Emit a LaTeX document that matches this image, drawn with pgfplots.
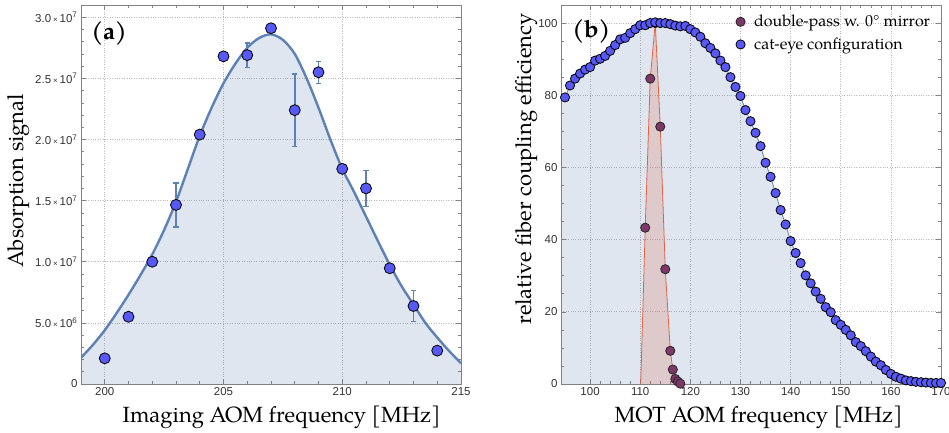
\documentclass[border=0pt]{standalone}
\usepackage{fontspec}
\setmainfont{TeX Gyre Pagella}
\setsansfont{Liberation Sans}
\usepackage{pgfplots}
\usepackage{pgfplotstable}
\pgfplotsset{compat=1.18}

\definecolor{curveblue}{RGB}{94,129,181}
\definecolor{markblue}{RGB}{88,88,245}
\definecolor{markred}{RGB}{125,55,105}
\definecolor{linered}{RGB}{222,100,70}
\definecolor{framegray}{RGB}{130,130,130}

% panel (a): measured points with error bars
\pgfplotstableread{
x y e
200 2.1e6 0
201 5.5e6 0
202 1.0e7 0
203 1.465e7 1.8e6
204 2.04e7 0
205 2.68e7 0
206 2.69e7 1.0e6
207 2.91e7 0
208 2.24e7 2.95e6
209 2.55e7 0.9e6
210 1.76e7 0
211 1.60e7 1.47e6
212 0.947e7 0
213 0.638e7 1.28e6
214 0.273e7 0
}\absdata

% panel (a): fitted curve
\pgfplotstableread{
x y
199 0.215e7
199.5 0.32e7
200 0.44e7
200.5 0.58e7
201 0.73e7
201.5 0.89e7
202 1.06e7
202.5 1.26e7
203 1.49e7
203.5 1.76e7
204 2.03e7
204.5 2.26e7
205 2.46e7
205.5 2.62e7
206 2.75e7
206.5 2.83e7
207 2.86e7
207.5 2.815e7
208 2.70e7
208.5 2.50e7
209 2.26e7
209.5 2.00e7
210 1.76e7
210.5 1.57e7
211 1.37e7
211.5 1.17e7
212 0.975e7
212.5 0.80e7
213 0.65e7
213.5 0.50e7
214 0.38e7
214.5 0.27e7
215 0.17e7
}\absfit

% panel (b): double-pass with 0 deg mirror
\pgfplotstableread{
x y
110.1 0
111 43.3
112 84.6
113 100
114 71.3
115 31.8
116 9.2
116.5 4.0
117 1.4
117.5 0.7
118 0.1
}\dpline
\pgfplotstableread{
x y
111 43.3
112 84.6
113 100
114 71.3
115 31.8
116 9.2
116.5 4.0
117 1.4
117.5 0.7
118 0.1
}\dpmarks

% panel (b): cat-eye configuration
\pgfplotstableread{
x y
94 78.9
95 79.4
96 82.7
97 84.6
98 86.0
99 87.1
100 87.8
101 89.6
102 90.1
103 90.9
104 92.3
105 93.9
106 95.5
107 95.9
108 97.2
109 98.3
110 99.4
111 99.4
112 100
113 100.2
114 100
115 100
116 99.7
117 99.3
118 99.1
119 99.2
120 98.3
121 97.4
122 96.2
123 94.4
124 93.1
125 91.6
126 89.6
127 87.8
128 85.0
129 82.3
130 79.8
131 75.9
132 72.8
133 69.6
134 65.9
135 61.3
136 57.4
137 52.9
138 48.2
139 44.2
140 39.6
141 36.3
142 33.5
143 30.1
144 27.9
145 25.6
146 23.6
147 21.3
148 19.9
149 17.7
150 16.4
151 15.0
152 13.5
153 11.6
154 10.5
155 9.1
156 7.6
157 6.2
158 5.2
159 3.9
160 2.8
161 2.0
162 1.5
163 1.0
164 0.8
165 0.6
166 0.5
167 0.4
168 0.3
169 0.3
170 0.3
}\cateye

\pgfplotsset{
  panel/.style={
    scale only axis, width=380pt, height=379pt,
    axis line style={framegray, line width=0.8pt},
    tick style={framegray, line width=0.6pt},
    major tick length=5pt, minor tick length=3pt,
    tick align=inside,
    grid=major,
    major grid style={dotted, black!28, line width=0.7pt},
    ticklabel style={font=\fontsize{11.5}{12}\sffamily, text=black!80},
    /pgf/number format/assume math mode=true,
    label style={font=\fontsize{22}{24}\selectfont},
  },
}

\begin{document}
\begin{tikzpicture}
\begin{axis}[panel, at={(0pt,0pt)}, anchor=south west,
  xmin=199, xmax=215, ymin=0, ymax=3.1e7,
  xtick={200,205,210,215}, minor x tick num=4,
  ytick={0,5e6,1e7,1.5e7,2e7,2.5e7,3e7}, minor y tick num=4,
  scaled y ticks=false,
  yticklabels={0,
    5.0\,{\fontsize{8}{8}\selectfont×}\,10\textsuperscript{6},
    1.0\,{\fontsize{8}{8}\selectfont×}\,10\textsuperscript{7},
    1.5\,{\fontsize{8}{8}\selectfont×}\,10\textsuperscript{7},
    2.0\,{\fontsize{8}{8}\selectfont×}\,10\textsuperscript{7},
    2.5\,{\fontsize{8}{8}\selectfont×}\,10\textsuperscript{7},
    3.0\,{\fontsize{8}{8}\selectfont×}\,10\textsuperscript{7}},
  xlabel={Imaging AOM frequency [MHz]},
  ylabel={Absorption signal},
  xlabel style={at={(axis description cs:0.528,-0.087)}, anchor=center},
  ylabel style={at={(axis description cs:-0.165,0.536)}, anchor=center},
]
\addplot[draw=none, fill=curveblue, fill opacity=0.2, smooth] table {\absfit} \closedcycle;
\addplot[curveblue, line width=2.4pt, smooth] table {\absfit};
\addplot[draw=none, mark=none,
  error bars/.cd, y dir=both, y explicit,
  error bar style={curveblue, line width=1.6pt},
  error mark options={curveblue, line width=1.4pt, mark size=2.6pt, rotate=90}]
  table[y error=e] {\absdata};
\addplot[only marks, mark=*, mark size=5.5pt,
  mark options={fill=markblue, draw=black, line width=0.8pt}] table[x=x,y=y] {\absdata};
\node[font=\fontsize{24}{26}\selectfont\bfseries] at (rel axis cs:0.074,0.925) {(a)};
\end{axis}

\begin{axis}[panel, at={(480pt,0pt)}, anchor=south west,
  xmin=94.2, xmax=170, ymin=0, ymax=105,
  xtick={100,110,...,170}, minor x tick num=4,
  ytick={0,20,...,100}, minor y tick num=3,
  xlabel={MOT AOM frequency [MHz]},
  ylabel={relative fiber coupling efficiency},
  xlabel style={at={(axis description cs:0.52,-0.087)}, anchor=center},
  ylabel style={at={(axis description cs:-0.0897,0.567)}, anchor=center},
  legend style={draw=none, fill=none, at={(rel axis cs:0.452,0.984)}, anchor=north west,
    font=\fontsize{16}{18}\selectfont, row sep=5.5pt,
    /tikz/every odd column/.append style={column sep=7pt}},
  legend cell align=left,
]
\addplot[draw=none, fill=curveblue, fill opacity=0.2, forget plot] table {\cateye} \closedcycle;
\addplot[draw=none, fill=linered, fill opacity=0.22, forget plot] table {\dpline} \closedcycle;
\addplot[linered, line width=0.8pt, forget plot] table {\dpline};
\addplot[curveblue, line width=0.8pt, forget plot] table {\cateye};
\addplot[only marks, mark=*, mark size=4.6pt,
  mark options={fill=markred, draw=black!85, line width=0.8pt}] table {\dpmarks};
\addlegendentry{double-pass w. 0° mirror}
\addplot[only marks, mark=*, mark size=4.6pt,
  mark options={fill=markblue, draw=black, line width=0.8pt}] table {\cateye};
\addlegendentry{cat-eye configuration}
\node[font=\fontsize{24}{26}\selectfont\bfseries] at (rel axis cs:0.080,0.931) {(b)};
\end{axis}
\pgfresetboundingbox
\useasboundingbox (-81pt,-48pt) rectangle (868pt,384pt);
\end{tikzpicture}
\end{document}
